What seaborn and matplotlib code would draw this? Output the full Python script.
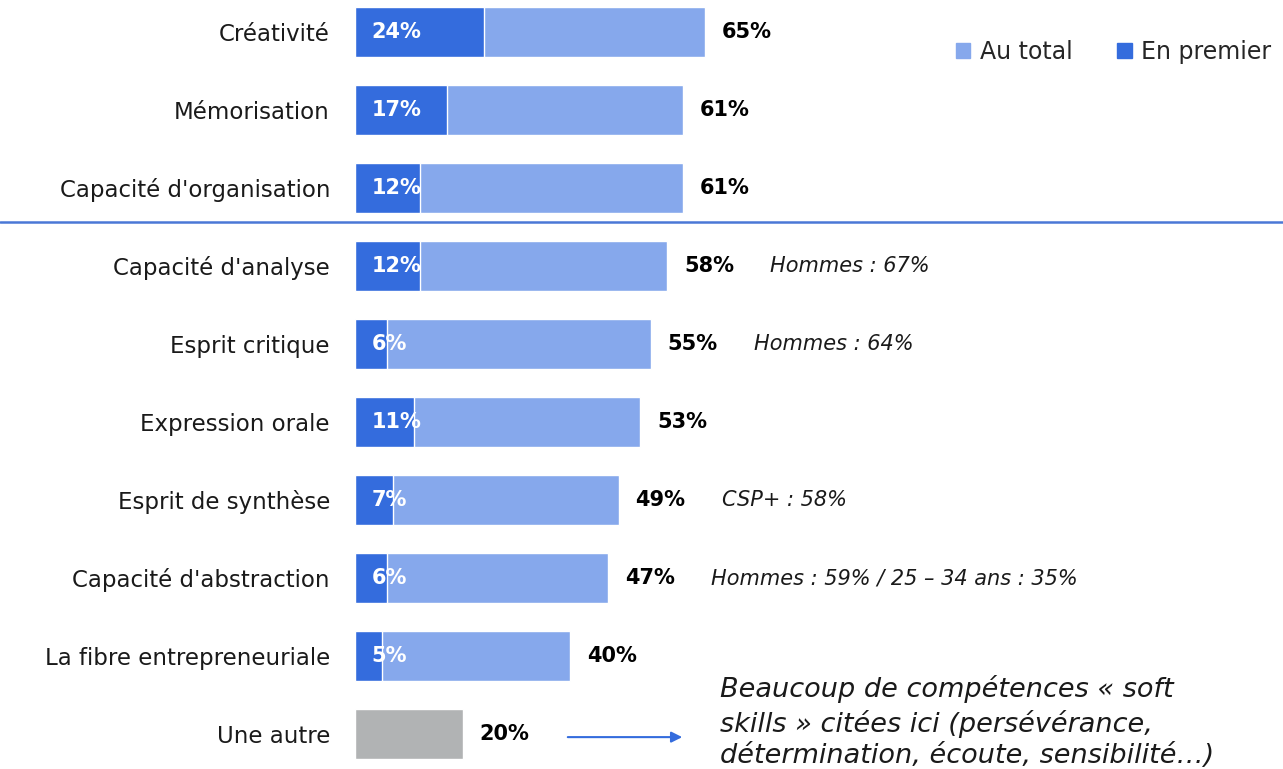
import matplotlib
matplotlib.use("Agg")
import matplotlib.pyplot as plt
import matplotlib.transforms as mtransforms
from matplotlib.patches import Patch
from matplotlib.lines import Line2D
import seaborn as sns
import pandas as pd

categories = ["Créativité", "Mémorisation", "Capacité d'organisation",
              "Capacité d'analyse", "Esprit critique", "Expression orale",
              "Esprit de synthèse", "Capacité d'abstraction",
              "La fibre entrepreneuriale", "Une autre"]
total = [65, 61, 61, 58, 55, 53, 49, 47, 40, 20]
premier = [24, 17, 12, 12, 6, 11, 7, 6, 5]
notes = ["", "", "", "Hommes : 67%", "Hommes : 64%", "", "CSP+ : 58%",
         "Hommes : 59% / 25 – 34 ans : 35%", "", ""]
comment = ("Beaucoup de compétences « soft\nskills » citées ici (persévérance,\n"
           "détermination, écoute, sensibilité…)")

LIGHT = "#86A8EC"
DARK = "#346CDD"
GRAY = "#B1B3B4"

sns.set_theme(style="white")
plt.rcParams['font.family'] = ['DejaVu Sans']

fig = plt.figure(figsize=(12.83, 7.69), dpi=100)
ax = fig.add_axes([355 / 1283, 0, 1 - 355 / 1283, 1])

df_tot = pd.DataFrame({"cat": categories, "val": total})
pal = {c: (GRAY if c == "Une autre" else LIGHT) for c in categories}
sns.barplot(data=df_tot, x="val", y="cat", hue="cat", palette=pal, legend=False,
            orient="h", width=0.64, ax=ax, saturation=1)
df_pre = pd.DataFrame({"cat": categories[:len(premier)], "val": premier})
sns.barplot(data=df_pre, x="val", y="cat", color=DARK, orient="h", width=0.64,
            ax=ax, saturation=1)

ax.set_xlim(0, (1283 - 355) / 5.385)
ax.set_ylim(9 + 35 / 78, -32 / 78)
ax.set_xlabel("")
ax.set_ylabel("")
ax.set_xticks([])
for s in ax.spines.values():
    s.set_visible(False)
ax.tick_params(axis="y", length=0, pad=18, labelsize=16.5)
for lbl in ax.get_yticklabels():
    lbl.set_color("#1a1a1a")

for i, v in enumerate(total):
    ax.annotate(f"{v}%", (v, i), xytext=(12, 0), textcoords="offset points",
                va="center", ha="left", fontsize=15, fontweight="bold",
                color="black")
    if notes[i]:
        ax.annotate(notes[i], (v, i), xytext=(74, 0), textcoords="offset points",
                    va="center", ha="left", fontsize=15, style="italic",
                    color="#1a1a1a")
for i, v in enumerate(premier):
    ax.annotate(f"{v}%", (0, i), xytext=(12, 0), textcoords="offset points",
                va="center", ha="left", fontsize=15, fontweight="bold",
                color="white")

# separator line across the full width
trans = mtransforms.blended_transform_factory(fig.transFigure, ax.transData)
fig.add_artist(Line2D([0, 1], [2.43, 2.43], transform=trans, color="#4A78D6", lw=1.8))

# arrow and comment
last = len(categories) - 1
ax.annotate("", xy=((685 - 355) / 5.385, last + 0.04),
            xytext=((565 - 355) / 5.385, last + 0.04),
            arrowprops=dict(arrowstyle="-|>", color=DARK, lw=1.5, mutation_scale=16))
ax.text((720 - 355) / 5.385, last - 0.15, comment, va="center", ha="left",
        fontsize=19.5, style="italic", color="#1a1a1a", linespacing=1.28)

handles = [Patch(color=LIGHT, label="Au total"), Patch(color=DARK, label="En premier")]
fig.legend(handles=handles, loc="center right", bbox_to_anchor=(1.0, 1 - 52 / 769),
           ncol=2, frameon=False, fontsize=17, handlelength=0.6, handleheight=0.6,
           handletextpad=0.4, columnspacing=1.9, borderaxespad=0.1)

fig.savefig("out.png", dpi=100)
